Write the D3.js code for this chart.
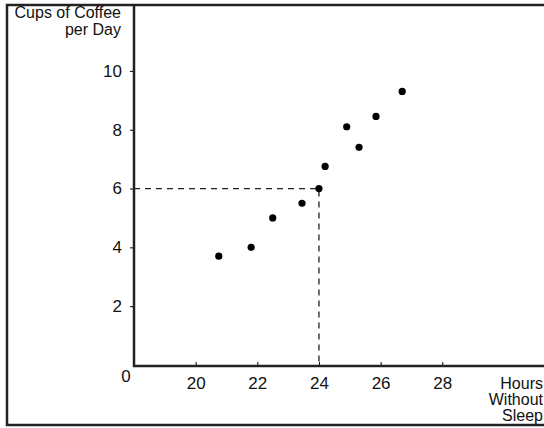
<!DOCTYPE html>
<html lang="en">
<head>
  <meta charset="UTF-8">
  <title>coffee</title>
  <script src="https://d3js.org/d3.v7.min.js" charset="utf-8"></script>
  <style>
    body { margin: 0; background: #fff; }
    text { font-family: "Liberation Sans", Arial, sans-serif; fill: #111; }
  </style>
</head>
<body>
</body>
<script>
  // hours without sleep vs cups of coffee
  var hours = [20.75, 21.8, 22.5, 23.45, 24, 24.2, 24.9, 25.3, 25.85, 26.7]
  var cups = [3.7, 4, 5, 5.5, 6, 6.75, 8.1, 7.4, 8.45, 9.3]
  var xTicks = [20, 22, 24, 26, 28]
  var yTicks = [2, 4, 6, 8, 10]
  var marked = [24, 6]

  var svg = d3.select('body').append('svg').attr('width', 544).attr('height', 428)

  var x = d3.scaleLinear().domain([18, 31.3]).range([134, 544])
  var y = d3.scaleLinear().domain([0, 12.24]).range([365, 5])

  // frame
  svg.append('path')
    .attr('d', 'M544,5 H7 V425 H544')
    .attr('fill', 'none')
    .attr('stroke', '#222')
    .attr('stroke-width', 2.5)

  // axes
  var yAxis = d3.axisLeft(y).tickValues(yTicks).tickSize(4).tickPadding(8)
  var gy = svg.append('g').attr('transform', 'translate(134,0)').call(yAxis)
  gy.select('.domain').remove()
  gy.selectAll('text').style('font-size', '17px').attr('fill', '#111')

  var xAxis = d3.axisBottom(x).tickValues(xTicks).tickSize(-4).tickPadding(11)
  var gx = svg.append('g').attr('transform', 'translate(0,366)').call(xAxis)
  gx.select('.domain').remove()
  gx.selectAll('text').style('font-size', '17px').attr('fill', '#111')

  svg.append('line').attr('x1', 134).attr('x2', 134).attr('y1', 5).attr('y2', 367)
    .attr('stroke', '#222').attr('stroke-width', 2.5)
  svg.append('line').attr('x1', 133).attr('x2', 544).attr('y1', 366).attr('y2', 366)
    .attr('stroke', '#222').attr('stroke-width', 2.5)

  svg.append('text').attr('x', 126).attr('y', 382).attr('text-anchor', 'middle')
    .style('font-size', '17px').text('0')

  // dashed guide to the marked point
  svg.append('path')
    .attr('d', 'M' + x(18) + ',' + y(marked[1]) + ' H' + x(marked[0]) + ' V' + y(0))
    .attr('fill', 'none')
    .attr('stroke', '#222')
    .attr('stroke-width', 1.3)
    .attr('stroke-dasharray', '6,5')

  // points
  svg.selectAll('circle.pt').data(hours).enter().append('circle')
    .attr('class', 'pt')
    .attr('cx', function(d) { return x(d) })
    .attr('cy', function(d, i) { return y(cups[i]) })
    .attr('r', 3.6)
    .attr('fill', '#000')

  // axis titles
  var yt = svg.append('text').attr('text-anchor', 'end').style('font-size', '16px')
  yt.append('tspan').attr('x', 121).attr('y', 18).text('Cups of Coffee')
  yt.append('tspan').attr('x', 121).attr('y', 35).text('per Day')

  var xt = svg.append('text').attr('text-anchor', 'end').style('font-size', '16px')
  xt.append('tspan').attr('x', 543).attr('y', 389).text('Hours')
  xt.append('tspan').attr('x', 543).attr('y', 405).text('Without')
  xt.append('tspan').attr('x', 543).attr('y', 421).text('Sleep')
</script>
</html>
